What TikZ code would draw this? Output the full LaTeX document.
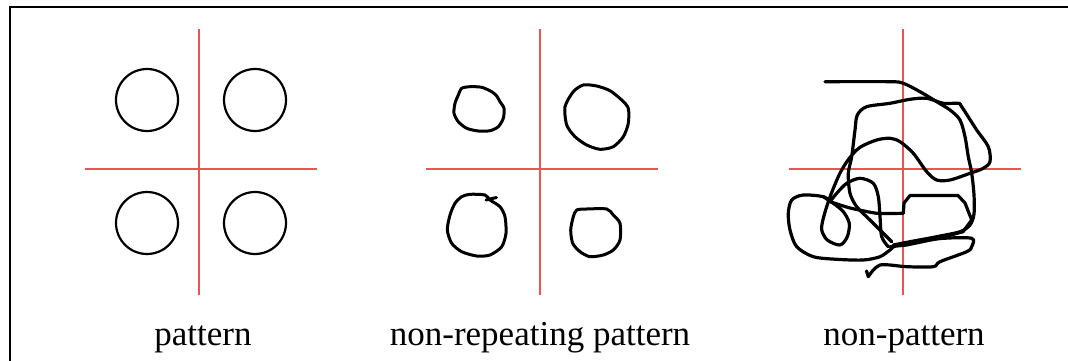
\documentclass[tikz,border=0pt]{standalone}
\usepackage{fontspec}
\setmainfont{Liberation Serif}
\usepackage{tikz}
\definecolor{axisred}{RGB}{236,84,84}
\newcommand{\lf}{\fontsize{35}{40}\selectfont}

\begin{document}
\begin{tikzpicture}[x=1pt, y=-1pt,
  every node/.style={inner sep=0pt, outer sep=0pt, font=\lf},
  axis/.style={axisred, line width=1.1pt},
  ring/.style={black, line width=2.2pt},
  blob/.style={black, line width=3pt, line join=round, line cap=round},
  scrib/.style={black, line width=3.2pt, line join=round, line cap=round}]
\useasboundingbox (0,0) rectangle (1068,361);
% ---- frame (only left and top edges show)
\draw[black, line width=1.6pt] (10,361) -- (10,7) -- (1068,7);
% ---- cross of red axes; #1 = centre x
\newcommand{\axes}[1]{%
  \draw[axis] (#1,29) -- (#1,295);
  \draw[axis] (#1-114,169) -- (#1+118,169);
}
% ================= panel (a): pattern
\axes{199}
\draw[ring] (147,100) circle (31pt);
\draw[ring] (255,100) circle (31pt);
\draw[ring] (147,223) circle (31pt);
\draw[ring] (255,223) circle (31pt);
\node[anchor=base] (lblA) at (203,345) {pattern};
% ================= panel (b): non-repeating pattern
\axes{540}
\draw[blob] plot[smooth cycle, tension=0.45] coordinates {
  (461.7,88.3) (470,86.7) (481.7,87.3) (491.7,91.7) (496.7,96) (500,101.7)
  (504,108.3) (503.3,118.3) (498.3,126.7) (490,130.7) (478.3,131)
  (466.7,128.3) (458.3,121.7) (454,113.3) (455,103.3) (458.3,95)};
\draw[blob] plot[smooth cycle, tension=0.45] coordinates {
  (573.3,91.7) (583.3,85) (596.7,86) (610,90.7) (621.7,100) (628.3,108.3)
  (628.3,123.3) (623.3,136.7) (613.3,146.7) (600,149.3) (586.7,145)
  (575,136.7) (566.7,125) (565,106.7)};
\draw[blob] plot[smooth cycle, tension=0.45] coordinates {
  (461.7,196.7) (470,194.3) (485,195) (490,200) (500,206.7) (505,216.7)
  (506,233.3) (501.7,246.7) (490,255) (476.7,256) (461.7,251.7)
  (451.7,243.3) (447.3,230) (450,215) (455,203.3)};
\draw[blob] (486,200) -- (496.5,197.5);
\draw[blob] plot[smooth cycle, tension=0.45] coordinates {
  (576.7,210) (586.7,209) (606.7,209) (613.3,215) (620,223.3) (620,240)
  (613.3,250) (603.3,255) (590,256.7) (580,251.7) (572.7,243.3)
  (570.7,230) (573.3,216.7)};
\node[anchor=base] (lblB) at (540,345) {non-repeating pattern};
% ================= panel (c): non-pattern
\axes{903}
% top stroke, down the right side
\draw[scrib] plot[smooth, tension=0.5] coordinates {
  (825,81.7) (890,81.7) (903.3,83.3) (920,91.7) (936.7,101.7) (950,110)
  (960,120) (965,136.7) (968.3,156.7) (971.7,173.3) (974,195) (974,214)
  (970,225) (960,231.7) (936.7,236.7) (910,241.7) (893.3,245)};
% upper loop, right bulge, into the small loop
\draw[scrib] plot[smooth, tension=0.5] coordinates {
  (891.7,241.7) (883.3,233.3) (870,220) (856.7,206.7) (850,193.3)
  (848.3,173.3) (851.7,156.7) (855,130) (857.3,115) (866.7,106.7)
  (890,103.3) (910,99.3) (926.7,98.3) (943.3,103.3) (958.3,103.3)
  (961.7,106.7) (976.7,130) (988.3,146.7) (990,161.7) (983.3,168.3)
  (970,173.3) (950,180) (936.7,180) (926.7,171.7) (913.3,153.3)
  (900,141.7) (890,138.3) (876.7,140) (860,147.3) (849.3,158.3)
  (840.7,171.7) (834,186.7) (828.3,201.7) (823.3,218.3) (821.7,230)
  (827.3,240) (840,245) (847.3,236.7) (849.3,223.3) (843.3,211.7)
  (833.3,203.3) (823.3,196.7)};
% middle loop
\draw[scrib] plot[smooth, tension=0.5] coordinates {
  (830,201.7) (836.7,193.3) (846.7,183.3) (860,178.3) (873.3,183.3)
  (878.3,196.7) (880,216.7) (881.7,236.7) (888.3,246.7)};
% step shape
\draw[scrib] plot[smooth, tension=0.3] coordinates {
  (830,201.7) (850,208) (876.7,213.3) (903.3,213.3)};
\draw[scrib] (903.3,213.3) -- (904,203) -- (910,195.5) -- (958,195.5)
  -- (965,203) -- (971.7,220) -- (963,231.7) -- (940,238) -- (906.7,245)
  -- (890,246.7);
% big left loop and bottom tail
\draw[scrib] plot[smooth, tension=0.5] coordinates {
  (830,201.7) (823.3,196.7) (803.3,195) (791.7,200) (788.3,213.3)
  (790,230) (796.7,246.7) (813.3,256.7) (836.7,259.3) (863.3,260)
  (880,256.7) (890,250) (896.7,245) (916.7,241.7) (943.3,238.3)
  (971.7,238.3) (971.7,246.7) (966.7,251.7) (940,261.7) (933.3,266.7)
  (906.7,266.7) (890,265) (880,265) (873.3,270) (868.3,276.7)};
\draw[scrib] (868.3,276.7) -- (866.5,271);
\node[anchor=base] (lblC) at (904,345) {non-pattern};
\end{tikzpicture}
\end{document}
